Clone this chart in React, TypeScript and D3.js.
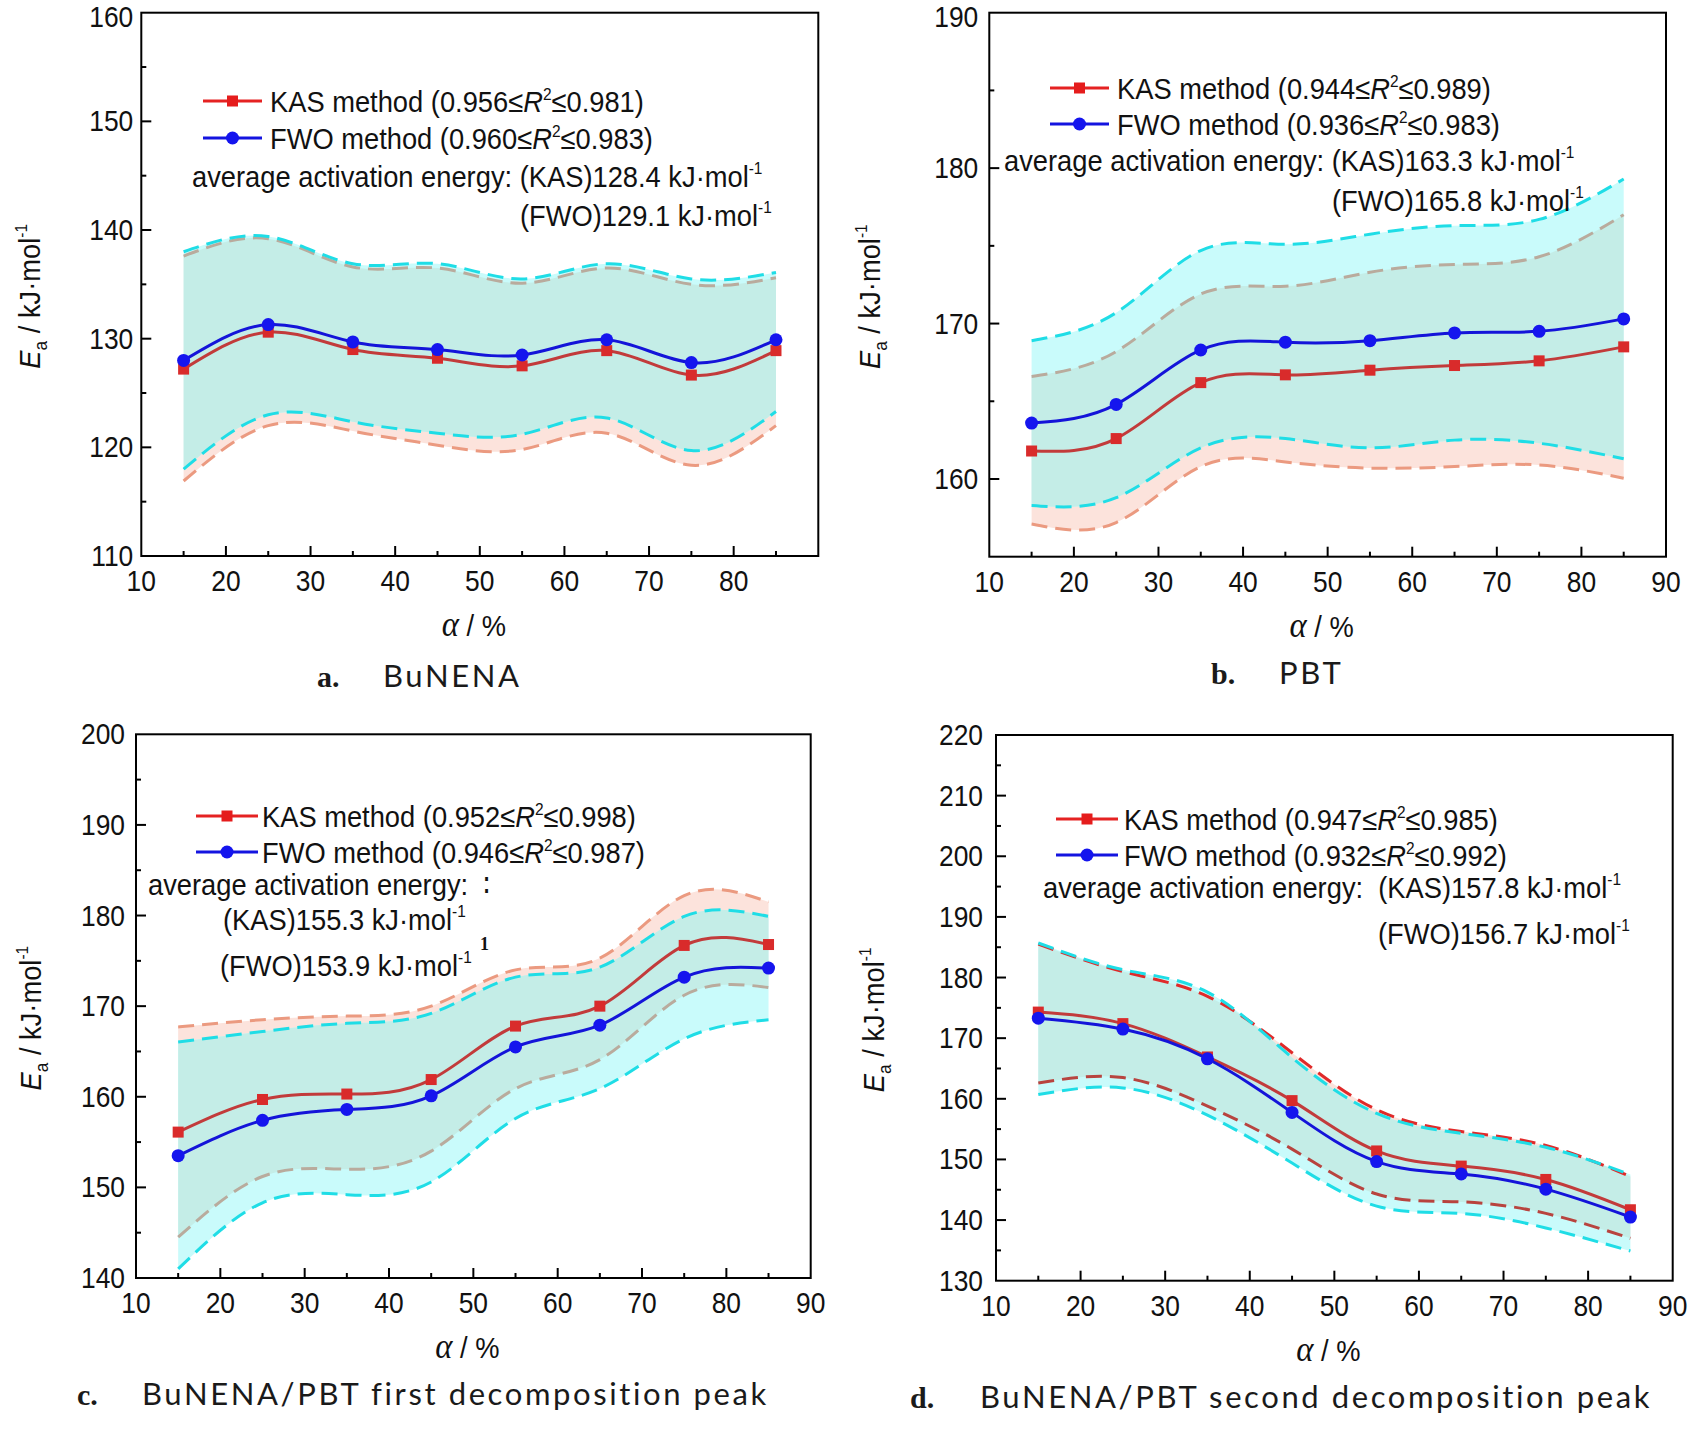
import * as d3 from 'd3';

// conversion degree alpha (%) shared by all four panels
const alpha = [15, 25, 35, 45, 55, 65, 75, 85];

// a. BuNENA
const kasA = [127.2, 130.6, 129.0, 128.2, 127.5, 128.9, 126.65, 128.9];
const fwoA = [128.0, 131.3, 129.7, 129.0, 128.5, 129.9, 127.8, 129.9];
const kasUpA = [137.6, 139.2, 136.6, 136.5, 135.1, 136.5, 135.0, 135.6];
const kasLoA = [116.9, 122.0, 121.5, 120.2, 119.8, 121.3, 118.35, 122.0];
const fwoUpA = [138.0, 139.4, 136.9, 136.9, 135.5, 136.9, 135.5, 136.1];
const fwoLoA = [118.0, 123.0, 122.35, 121.3, 121.2, 122.7, 119.7, 123.3];

// b. PBT
const kasB = [161.8, 162.6, 166.2, 166.7, 167.0, 167.3, 167.6, 168.5];
const fwoB = [163.6, 164.8, 168.3, 168.8, 168.9, 169.4, 169.5, 170.3];
const kasUpB = [166.6, 168.2, 171.9, 172.4, 173.3, 173.8, 174.3, 177.0];
const kasLoB = [157.1, 157.2, 160.8, 161.1, 160.7, 160.8, 160.9, 160.05];
const fwoUpB = [168.9, 170.7, 174.7, 175.1, 175.75, 176.3, 176.7, 179.3];
const fwoLoB = [158.3, 158.8, 162.0, 162.6, 162.0, 162.5, 162.3, 161.3];

// c. BuNENA/PBT first decomposition peak
const kasC = [156.1, 159.7, 160.3, 161.9, 167.8, 170.0, 176.7, 176.8];
const fwoC = [153.5, 157.4, 158.6, 160.1, 165.5, 167.9, 173.2, 174.2];
const kasUpC = [167.7, 168.5, 168.9, 170.0, 174.0, 175.3, 182.2, 181.5];
const kasLoC = [144.5, 151.2, 152.0, 154.0, 160.9, 164.1, 171.2, 172.05];
const fwoUpC = [166.05, 167.2, 168.1, 169.2, 173.2, 174.3, 179.9, 179.9];
const fwoLoC = [141.0, 148.3, 149.2, 150.6, 157.6, 160.9, 166.4, 168.5];

// d. BuNENA/PBT second decomposition peak
const kasD = [174.3, 172.4, 166.9, 159.7, 151.4, 148.9, 146.7, 141.7];
const fwoD = [173.3, 171.5, 166.6, 157.75, 149.65, 147.6, 145.1, 140.5];
const kasUpD = [185.5, 181.0, 176.9, 167.6, 158.2, 154.6, 152.3, 147.2];
const kasLoD = [162.6, 163.5, 158.8, 151.7, 144.3, 143.0, 141.1, 137.0];
const fwoUpD = [185.7, 181.3, 177.6, 166.8, 157.6, 154.3, 152.0, 147.5];
const fwoLoD = [160.7, 161.8, 157.3, 149.4, 142.3, 141.1, 138.7, 134.9];

// tick labels
const xTicksA = [10, 20, 30, 40, 50, 60, 70, 80];
const xTicks = [10, 20, 30, 40, 50, 60, 70, 80, 90];
const yTicksA = [110, 120, 130, 140, 150, 160];
const yTicksB = [160, 170, 180, 190];
const yTicksC = [140, 150, 160, 170, 180, 190, 200];
const yTicksD = [130, 140, 150, 160, 170, 180, 190, 200, 210, 220];

// legend R² ranges: KAS lo, KAS hi, FWO lo, FWO hi
const r2A = ['0.956', '0.981', '0.960', '0.983'];
const r2B = ['0.944', '0.989', '0.936', '0.983'];
const r2C = ['0.952', '0.998', '0.946', '0.987'];
const r2D = ['0.947', '0.985', '0.932', '0.992'];

const SANS = '"Liberation Sans", Arial, Helvetica, sans-serif';
const SERIF = '"Liberation Serif", "Times New Roman", serif';
const CAPF = 'Lato, "Open Sans", "DejaVu Sans", sans-serif';
const SX = 0.91;

const TEAL = '#c4ede7';
const CYANFILL = '#c9fbfb';
const SALMONFILL = '#fce3dc';
const CYAN = '#1fdde6';
const SALMON = '#eb9a80';
const TAN = '#b9ab9d';

function T({ x, y, size = 30, anchor = 'start', children }: any) {
  return (
    <g transform={`translate(${x},${y}) scale(${SX},1)`}>
      <text fontFamily={SANS} fontSize={size} textAnchor={anchor} fill="#111" xmlSpace="preserve">
        {children}
      </text>
    </g>
  );
}

function Unit() {
  return (
    <>
      {' kJ·mol'}
      <tspan fontSize={17} dy={-13}>-1</tspan>
    </>
  );
}

function R2Text({ label, lo, hi }: any) {
  return (
    <>
      {`${label} method (${lo}≤`}
      <tspan fontStyle="italic">R</tspan>
      <tspan fontSize={17} dy={-12}>2</tspan>
      <tspan dy={12}>{`≤${hi})`}</tspan>
    </>
  );
}

function Panel({ p }: any) {
  const x = d3.scaleLinear().domain([10, 90]).range([p.left, p.right]);
  const y = d3.scaleLinear().domain(p.yDomain).range([p.bottom, p.top]);
  const line = (vals: number[]) =>
    d3.line<number>().x((_, i) => x(alpha[i])).y((v) => y(v)).curve(d3.curveNatural)(vals) as string;
  const area = (lo: number[], hi: number[]) =>
    d3.area<number>()
      .x((_, i) => x(alpha[i]))
      .y0((_, i) => y(lo[i]))
      .y1((v) => y(v))
      .curve(d3.curveNatural)(hi) as string;

  const [d0, d1] = p.yDomain;
  const yMinor = d3.range(Math.ceil(d0 / 5) * 5, d1, 5).filter((v) => v % 10 !== 0 && v > d0);
  const yMajor = p.yTicks.filter((v: number) => v > d0 && v < d1);
  const xMajor = [20, 30, 40, 50, 60, 70, 80];
  const xMinor = [15, 25, 35, 45, 55, 65, 75, 85];
  const kasArea = area(p.kasLo, p.kasUp);
  const fwoArea = area(p.fwoLo, p.fwoUp);
  const cid = `clip-kas-${p.key}`;
  const lg = p.legend;

  return (
    <g>
      <defs>
        <clipPath id={cid}>
          <path d={kasArea} />
        </clipPath>
      </defs>
      {/* bands */}
      <path d={kasArea} fill={SALMONFILL} />
      <path d={fwoArea} fill={CYANFILL} />
      <path d={fwoArea} fill={TEAL} clipPath={`url(#${cid})`} />
      {/* dashed bounds */}
      <path d={line(p.kasUp)} fill="none" stroke={p.kasUpColor} strokeWidth={3} strokeDasharray="16 8" />
      <path d={line(p.kasLo)} fill="none" stroke={p.kasLoColor} strokeWidth={3} strokeDasharray="16 8" />
      <path d={line(p.fwoUp)} fill="none" stroke={CYAN} strokeWidth={3} strokeDasharray="16 8" />
      <path d={line(p.fwoLo)} fill="none" stroke={CYAN} strokeWidth={3} strokeDasharray="16 8" />
      {/* main lines */}
      <path d={line(p.kas)} fill="none" stroke="#c23b3b" strokeWidth={3} />
      <path d={line(p.fwo)} fill="none" stroke="#1414d9" strokeWidth={3} />
      {p.kas.map((v: number, i: number) => (
        <rect key={`k${i}`} x={x(alpha[i]) - 5.5} y={y(v) - 5.5} width={11} height={11} fill="#d92b2b" />
      ))}
      {p.fwo.map((v: number, i: number) => (
        <circle key={`f${i}`} cx={x(alpha[i])} cy={y(v)} r={6.5} fill="#1515ee" />
      ))}

      {/* frame and ticks */}
      <rect x={p.left} y={p.top} width={p.right - p.left} height={p.bottom - p.top} fill="none" stroke="#000" strokeWidth={2} />
      {yMajor.map((v: number) => (
        <line key={`ym${v}`} x1={p.left} x2={p.left + 10} y1={y(v)} y2={y(v)} stroke="#000" strokeWidth={2} />
      ))}
      {yMinor.map((v: number) => (
        <line key={`yn${v}`} x1={p.left} x2={p.left + 5} y1={y(v)} y2={y(v)} stroke="#000" strokeWidth={2} />
      ))}
      {xMajor.map((v) => (
        <line key={`xm${v}`} x1={x(v)} x2={x(v)} y1={p.bottom} y2={p.bottom - 10} stroke="#000" strokeWidth={2} />
      ))}
      {xMinor.map((v) => (
        <line key={`xn${v}`} x1={x(v)} x2={x(v)} y1={p.bottom} y2={p.bottom - 5} stroke="#000" strokeWidth={2} />
      ))}
      {p.yTicks.map((v: number) => (
        <T key={`yl${v}`} x={p.left - p.yLabGap} y={Math.max(y(v) + 10, 27)} size={29} anchor="end">{v}</T>
      ))}
      {p.xTicks.map((v: number) => (
        <T key={`xl${v}`} x={x(v)} y={p.bottom + 35} size={29} anchor="middle">{v}</T>
      ))}

      {/* axis titles */}
      <g transform={`translate(${p.yTitleX},${(p.top + p.bottom) / 2 + 12}) rotate(-90) scale(${SX},1)`}>
        <text fontFamily={SANS} fontSize={30} textAnchor="middle" fill="#111">
          <tspan fontStyle="italic">E</tspan>
          <tspan fontSize={19} dy={7}>a</tspan>
          <tspan dy={-7}> / kJ·mol</tspan>
          <tspan fontSize={17} dy={-13}>-1</tspan>
        </text>
      </g>
      <g transform={`translate(${(p.left + p.right) / 2 - 6},${p.bottom + 80}) scale(${SX},1)`}>
        <text fontFamily={SANS} fontSize={30} textAnchor="middle" fill="#111">
          <tspan fontFamily={SERIF} fontStyle="italic" fontSize={36}>α</tspan>
          <tspan> / %</tspan>
        </text>
      </g>

      {/* legend */}
      <line x1={lg.x0} x2={lg.x1} y1={lg.y1} y2={lg.y1} stroke="#e52222" strokeWidth={3} />
      <rect x={(lg.x0 + lg.x1) / 2 - 5.5} y={lg.y1 - 5.5} width={11} height={11} fill="#e51c1c" />
      <line x1={lg.x0} x2={lg.x1} y1={lg.y2} y2={lg.y2} stroke="#1414e0" strokeWidth={3} />
      <circle cx={(lg.x0 + lg.x1) / 2} cy={lg.y2} r={6.5} fill="#1414ee" />
      <T x={lg.tx} y={lg.y1 + 11}>
        <R2Text label="KAS" lo={p.r2[0]} hi={p.r2[1]} />
      </T>
      <T x={lg.tx} y={lg.y2 + 11}>
        <R2Text label="FWO" lo={p.r2[2]} hi={p.r2[3]} />
      </T>
      {p.notes.map((n: any, i: number) => (
        <T key={`n${i}`} x={n.x} y={n.y}>
          {n.text}
          {n.unit ? <Unit /> : null}
        </T>
      ))}
      {p.stray ? (
        <text x={p.stray.x} y={p.stray.y} fontFamily={SERIF} fontWeight="bold" fontSize={18} fill="#111">
          {p.stray.text}
        </text>
      ) : null}

      {/* caption */}
      <text x={p.capX} y={p.capY} fontFamily={SERIF} fontWeight="bold" fontSize={30} fill="#1a1a1a">{p.key}.</text>
      <text x={p.capTX} y={p.capY} fontFamily={CAPF} fontWeight={400} fontSize={31} letterSpacing={2.6} fill="#1a1a1a">{p.caption}</text>
    </g>
  );
}

const panels = [
  {
    key: 'a', left: 141.3, right: 818.3, top: 12.7, bottom: 556, yDomain: [110, 160],
    kas: kasA, fwo: fwoA, kasUp: kasUpA, kasLo: kasLoA, fwoUp: fwoUpA, fwoLo: fwoLoA,
    kasUpColor: TAN, kasLoColor: SALMON, yTicks: yTicksA, xTicks: xTicksA, yLabGap: 8, yTitleX: 40,
    r2: r2A,
    legend: { x0: 203, x1: 262, y1: 101, y2: 138, tx: 270 },
    notes: [
      { x: 192, y: 187, text: 'average activation energy: (KAS)128.4', unit: true },
      { x: 520, y: 226, text: '(FWO)129.1', unit: true },
    ],
    capX: 317, capTX: 383, capY: 687, caption: 'BuNENA',
  },
  {
    key: 'b', left: 989.3, right: 1666, top: 12.7, bottom: 556.7, yDomain: [155, 190],
    kas: kasB, fwo: fwoB, kasUp: kasUpB, kasLo: kasLoB, fwoUp: fwoUpB, fwoLo: fwoLoB,
    kasUpColor: TAN, kasLoColor: SALMON, yTicks: yTicksB, xTicks, yLabGap: 11, yTitleX: 880,
    r2: r2B,
    legend: { x0: 1050, x1: 1109, y1: 88, y2: 124, tx: 1117 },
    notes: [
      { x: 1004, y: 171, text: 'average activation energy: (KAS)163.3', unit: true },
      { x: 1332, y: 211, text: '(FWO)165.8', unit: true },
    ],
    capX: 1211, capTX: 1279, capY: 684, caption: 'PBT',
  },
  {
    key: 'c', left: 136, right: 810.7, top: 734.3, bottom: 1278, yDomain: [140, 200],
    kas: kasC, fwo: fwoC, kasUp: kasUpC, kasLo: kasLoC, fwoUp: fwoUpC, fwoLo: fwoLoC,
    kasUpColor: SALMON, kasLoColor: TAN, yTicks: yTicksC, xTicks, yLabGap: 11, yTitleX: 41,
    r2: r2C,
    legend: { x0: 196, x1: 258, y1: 816, y2: 852, tx: 262 },
    notes: [
      { x: 148, y: 895, text: 'average activation energy:  ∶', unit: false },
      { x: 223, y: 930, text: '(KAS)155.3', unit: true },
      { x: 220, y: 976, text: '(FWO)153.9', unit: true },
    ],
    stray: { x: 480, y: 950, text: '1' },
    capX: 77, capTX: 142, capY: 1405, caption: 'BuNENA/PBT first decomposition peak',
  },
  {
    key: 'd', left: 996, right: 1672.7, top: 735, bottom: 1280.7, yDomain: [130, 220],
    kas: kasD, fwo: fwoD, kasUp: kasUpD, kasLo: kasLoD, fwoUp: fwoUpD, fwoLo: fwoLoD,
    kasUpColor: '#e02a2a', kasLoColor: '#b8443f', yTicks: yTicksD, xTicks, yLabGap: 13, yTitleX: 884,
    r2: r2D,
    legend: { x0: 1056, x1: 1118, y1: 819, y2: 855, tx: 1124 },
    notes: [
      { x: 1043, y: 898, text: 'average activation energy:  (KAS)157.8', unit: true },
      { x: 1378, y: 944, text: '(FWO)156.7', unit: true },
    ],
    capX: 910, capTX: 980, capY: 1408, caption: 'BuNENA/PBT second decomposition peak',
  },
];

export default function App() {
  return (
    <svg
      width={1706}
      height={1442}
      style={{ position: 'absolute', left: 0, top: 0, background: '#fff' }}
    >
      <rect width={1706} height={1442} fill="#fff" />
      {panels.map((p) => (
        <Panel key={p.key} p={p} />
      ))}
    </svg>
  );
}
